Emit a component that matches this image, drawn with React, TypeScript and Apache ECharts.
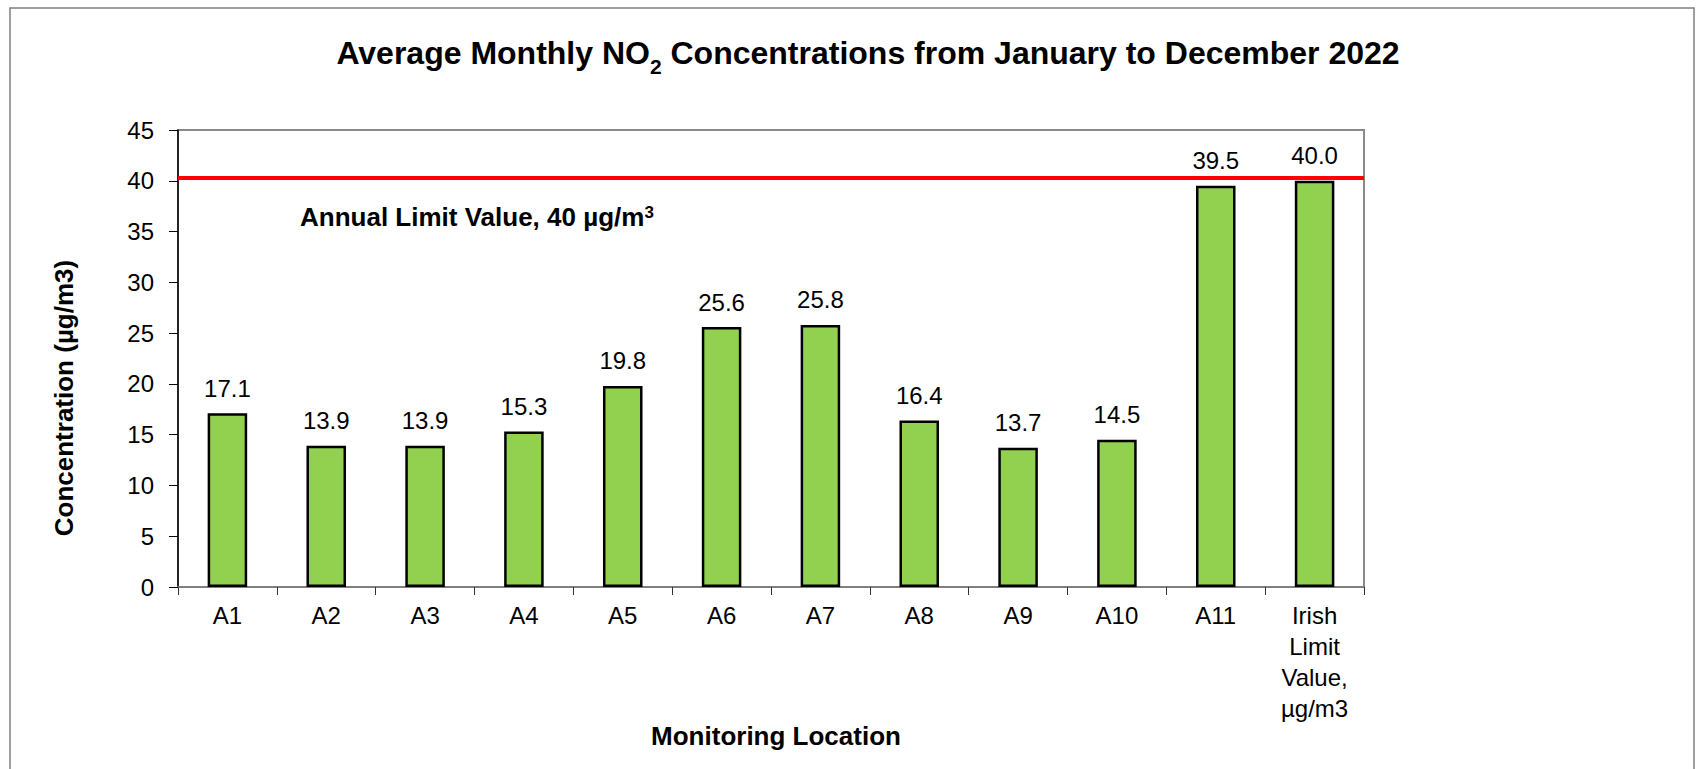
import React, { useEffect, useRef } from 'react';
import * as echarts from 'echarts';

const categories: string[] = ['A1', 'A2', 'A3', 'A4', 'A5', 'A6', 'A7', 'A8', 'A9', 'A10', 'A11', 'Irish\nLimit\nValue,\nµg/m3'];
const values: number[] = [17.1, 13.9, 13.9, 15.3, 19.8, 25.6, 25.8, 16.4, 13.7, 14.5, 39.5, 40.0];
const limitLineLevel = 40.33;
const yMin = 0;
const yMax = 45;
const yInterval = 5;
const titleMain = 'Average Monthly NO';
const titleSub = '2';
const titleRest = ' Concentrations from January to December 2022';
const annotationMain = 'Annual Limit Value, 40 µg/m';
const annotationSup = '3';
const xAxisTitle = 'Monitoring Location';
const yAxisTitle = 'Concentration (µg/m3)';

const FONT = '"Liberation Sans", Arial, Helvetica, sans-serif';

export default function App() {
  const ref = useRef<HTMLDivElement>(null);
  useEffect(() => {
    const chart = echarts.init(ref.current!, null, { renderer: 'svg' });
    chart.setOption({
      animation: false,
      backgroundColor: '#ffffff',
      textStyle: { fontFamily: FONT },
      grid: {
        left: 178,
        right: 338,
        top: 130,
        bottom: 182,
        show: true,
        borderColor: '#8a8a8a',
        borderWidth: 2,
        backgroundColor: 'transparent',
      },
      xAxis: {
        type: 'category',
        data: categories,
        axisLine: { show: true, lineStyle: { color: '#7f7f7f', width: 2 } },
        axisTick: { show: true, length: 8, lineStyle: { color: '#333', width: 1 } },
        axisLabel: {
          color: '#000',
          fontFamily: FONT,
          fontSize: 24,
          lineHeight: 31,
          margin: 13,
          interval: 0,
        },
        splitLine: { show: false },
      },
      yAxis: {
        type: 'value',
        min: yMin,
        max: yMax,
        interval: yInterval,
        axisLine: { show: true, lineStyle: { color: '#000', width: 1.5 } },
        axisTick: { show: true, length: 9, lineStyle: { color: '#000', width: 1 } },
        axisLabel: { color: '#000', fontFamily: FONT, fontSize: 24, margin: 24 },
        splitLine: { show: false },
      },
      series: [
        {
          type: 'bar',
          data: values,
          barWidth: '40%',
          itemStyle: { color: '#92D050', borderColor: '#000', borderWidth: 2.5 },
          label: {
            show: true,
            position: 'top',
            distance: 13,
            color: '#000',
            fontFamily: FONT,
            fontSize: 24,
            formatter: (p: any) => Number(p.value).toFixed(1),
          },
          markLine: {
            silent: true,
            symbol: ['none', 'none'],
            label: { show: false },
            lineStyle: { color: '#FF0000', width: 4, type: 'solid' },
            data: [{ yAxis: limitLineLevel }],
          },
        },
      ],
      graphic: [
        {
          type: 'rect',
          silent: true,
          shape: { x: 10, y: 8, width: 1684, height: 800 },
          style: { fill: 'none', stroke: '#808080', lineWidth: 1.5 },
        },
        {
          type: 'text',
          x: 868,
          y: 37,
          silent: true,
          style: {
            text: `{m|${titleMain}}{s|${titleSub}}{m|${titleRest}}`,
            align: 'center',
            verticalAlign: 'top',
            rich: {
              m: { fontFamily: FONT, fontWeight: 'bold', fontSize: 32, lineHeight: 36, verticalAlign: 'top', fill: '#000' },
              s: { fontFamily: FONT, fontWeight: 'bold', fontSize: 21, lineHeight: 21, verticalAlign: 'top', padding: [19, 0, 0, 0], fill: '#000' },
            },
          },
        },
        {
          type: 'text',
          x: 300,
          y: 204,
          silent: true,
          style: {
            text: `{m|${annotationMain}}{p|${annotationSup}}`,
            align: 'left',
            verticalAlign: 'top',
            rich: {
              m: { fontFamily: FONT, fontWeight: 'bold', fontSize: 26, lineHeight: 30, verticalAlign: 'top', fill: '#000' },
              p: { fontFamily: FONT, fontWeight: 'bold', fontSize: 17, lineHeight: 20, verticalAlign: 'top', fill: '#000' },
            },
          },
        },
        {
          type: 'text',
          x: 776,
          y: 736,
          silent: true,
          style: {
            text: xAxisTitle,
            align: 'center',
            verticalAlign: 'middle',
            fontFamily: FONT,
            fontWeight: 'bold',
            fontSize: 26,
            fill: '#000',
          },
        },
        {
          type: 'text',
          x: 64,
          y: 398,
          rotation: Math.PI / 2,
          silent: true,
          style: {
            text: yAxisTitle,
            align: 'center',
            verticalAlign: 'middle',
            fontFamily: FONT,
            fontWeight: 'bold',
            fontSize: 26,
            fill: '#000',
          },
        },
      ],
    });
    return () => chart.dispose();
  }, []);
  return (
    <div
      ref={ref}
      style={{ position: 'fixed', left: 0, top: 0, width: 1702, height: 769, background: '#fff' }}
    />
  );
}
